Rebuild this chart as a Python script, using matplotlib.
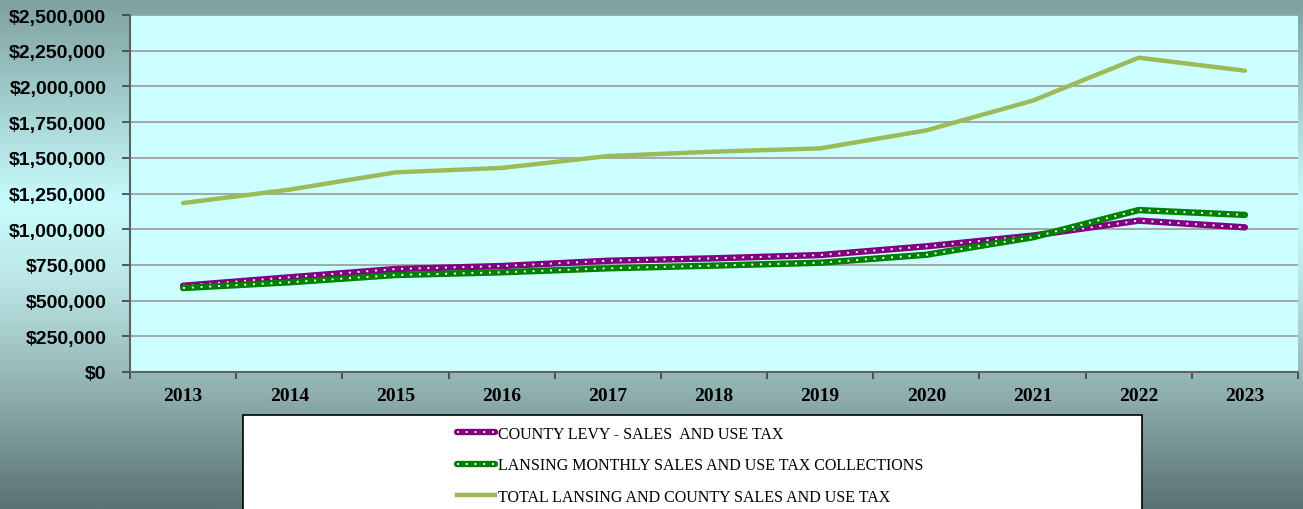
import matplotlib
matplotlib.use("Agg")
import matplotlib.pyplot as plt
import numpy as np
from matplotlib.colors import LinearSegmentedColormap
from matplotlib.lines import Line2D
from matplotlib.patches import Rectangle
from matplotlib.ticker import FuncFormatter, FixedLocator

years = ["2013", "2014", "2015", "2016", "2017", "2018", "2019", "2020", "2021", "2022", "2023"]
county_levy = [604000, 663000, 721000, 742000, 779000, 796000, 819000, 880000, 955000, 1060000, 1013000]
lansing_monthly = [588000, 628000, 679000, 698000, 726000, 745000, 765000, 821000, 943000, 1134000, 1100000]
total_tax = [1183000, 1277000, 1398000, 1429000, 1512000, 1543000, 1566000, 1692000, 1900000, 2201000, 2110000]

labels = ["COUNTY LEVY - SALES  AND USE TAX",
          "LANSING MONTHLY SALES AND USE TAX COLLECTIONS",
          "TOTAL LANSING AND COUNTY SALES AND USE TAX"]

W, H = 1303, 510
fig = plt.figure(figsize=(W / 100, H / 100), dpi=100)

# gradient background
bg = fig.add_axes([0, 0, 1, 1], zorder=-10)
cmap = LinearSegmentedColormap.from_list(
    "bg", [(0.0, "#7fa0a0"), (0.40, "#c8fcfc"), (0.55, "#bce6e6"),
           (0.75, "#95b5b5"), (1.0, "#5a7272")])
grad = np.linspace(0, 1, 512).reshape(-1, 1)
bg.imshow(grad, aspect="auto", cmap=cmap, extent=[0, 1, 0, 1], origin="upper")
bg.set_axis_off()

ax = fig.add_axes([130 / W, 1 - 373 / H, (1298 - 130) / W, (373 - 16) / H])
ax.set_facecolor("#ccffff")

x = np.arange(len(years))

ax.plot(x, county_levy, color="#800080", lw=4.6, solid_capstyle="round", zorder=3)
ax.plot(x, county_levy, color="white", lw=1.4, linestyle=(0, (1, 3.5)),
        dash_capstyle="butt", zorder=3.1)
ax.plot(x, lansing_monthly, color="#008000", lw=4.6, solid_capstyle="round", zorder=4)
ax.plot(x, lansing_monthly, color="white", lw=1.4, linestyle=(0, (1, 3.5)),
        dash_capstyle="butt", zorder=4.1)
ax.plot(x, total_tax, color="#9bbb59", lw=3.2, solid_capstyle="round", zorder=5)

ax.set_xlim(-0.5, len(years) - 0.5)
ax.set_ylim(0, 2500000)
ax.yaxis.set_major_locator(FixedLocator(np.arange(0, 2500001, 250000)))
ax.yaxis.set_major_formatter(FuncFormatter(lambda v, p: "${:,.0f}".format(v)))
ax.grid(axis="y", color="#a0a0a0", lw=1.3)
ax.set_axisbelow(True)

ax.set_xticks(np.arange(-0.5, len(years), 1.0))
ax.set_xticklabels([])
ax.set_xticks(x, minor=True)
ax.set_xticklabels(years, minor=True)
ax.tick_params(axis="x", which="major", length=5, width=1.2, color="#404040", direction="out")
ax.tick_params(axis="x", which="minor", length=0, pad=11)
ax.tick_params(axis="y", length=6, width=1.2, color="#404040", direction="out", pad=11)

for lab in ax.get_yticklabels():
    lab.set_fontfamily("Liberation Sans")
    lab.set_fontweight("bold")
    lab.set_fontsize(14)
for lab in ax.get_xticklabels(minor=True):
    lab.set_fontfamily("Liberation Serif")
    lab.set_fontweight("bold")
    lab.set_fontsize(14)

for s in ["top", "right"]:
    ax.spines[s].set_visible(False)
ax.spines["left"].set_color("#606060")
ax.spines["bottom"].set_color("#606060")
ax.spines["left"].set_linewidth(1.5)
ax.spines["bottom"].set_linewidth(1.5)

# legend box
fig.patches.append(Rectangle((243 / W, -0.05), (1142 - 243) / W, (510 - 416) / H + 0.05,
                             transform=fig.transFigure, facecolor="white",
                             edgecolor="black", lw=1.2, zorder=1))

h1 = (Line2D([], [], color="#800080", lw=4.6, solid_capstyle="round"),
      Line2D([], [], color="white", lw=1.4, linestyle=(0, (1, 3.5))))
h2 = (Line2D([], [], color="#008000", lw=4.6, solid_capstyle="round"),
      Line2D([], [], color="white", lw=1.4, linestyle=(0, (1, 3.5))))
h3 = Line2D([], [], color="#9bbb59", lw=3.2)
leg = fig.legend([h1, h2, h3], labels, loc="upper left",
                 bbox_to_anchor=(457 / W, 1 - 427 / H), frameon=False,
                 prop={"family": "Liberation Serif", "size": 11.5},
                 handlelength=2.35, handletextpad=0.2, labelspacing=0.97,
                 borderpad=0, borderaxespad=0)
leg.set_zorder(5)

fig.savefig("out.png", dpi=100)
